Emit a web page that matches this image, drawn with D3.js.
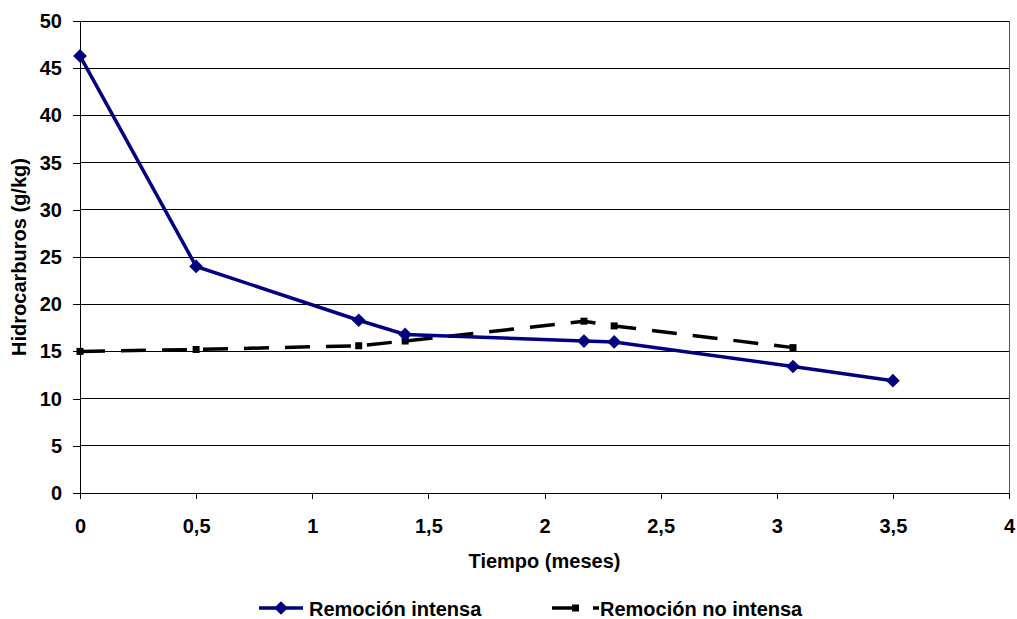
<!DOCTYPE html>
<html>
<head>
<meta charset="utf-8">
<script src="https://cdn.jsdelivr.net/npm/d3@7"></script>
<style>
  body { margin: 0; background: #fff; }
  svg text { font-family: "Liberation Sans", Arial, sans-serif; font-weight: bold; fill: #000; }
</style>
</head>
<body>
<div id="chart"></div>
<script>
// data
var xTicks = [0, 0.5, 1, 1.5, 2, 2.5, 3, 3.5, 4];
var yTicks = [0, 5, 10, 15, 20, 25, 30, 35, 40, 45, 50];

var intensaX = [0, 0.5, 1.2, 1.4, 2.17, 2.3, 3.07, 3.5];
var intensaY = [46.3, 24.0, 18.3, 16.8, 16.1, 16.0, 13.4, 11.9];

var noIntensaX = [0, 0.5, 1.2, 1.4, 2.17, 2.3, 3.07];
var noIntensaY = [15.0, 15.2, 15.6, 16.1, 18.2, 17.7, 15.4];

var seriesNames = ["Remoción intensa", "Remoción no intensa"];

var fmt = function(d) { return String(d).replace(".", ","); };

var width = 1017, height = 619;
var margin = {top: 21, right: 8, bottom: 126, left: 80};
var w = width - margin.left - margin.right,
    h = height - margin.top - margin.bottom;

var svg = d3.select("#chart").append("svg")
    .attr("width", width)
    .attr("height", height);

var g = svg.append("g")
    .attr("transform", "translate(" + margin.left + "," + margin.top + ")");

var xScale = d3.scaleLinear().domain([0, 4]).range([0, w]);
var yScale = d3.scaleLinear().domain([0, 50]).range([h, 0]);

// gridlines
g.selectAll(".grid")
    .data(yTicks.filter(function(d) { return d > 0; }))
  .enter().append("line")
    .attr("class", "grid")
    .attr("x1", 0).attr("x2", w)
    .attr("y1", function(d) { return yScale(d); })
    .attr("y2", function(d) { return yScale(d); })
    .style("stroke", "#000")
    .style("stroke-width", 1)
    .attr("shape-rendering", "crispEdges");

// right border
g.append("line")
    .attr("x1", w).attr("x2", w).attr("y1", 0).attr("y2", h)
    .style("stroke", "#555")
    .attr("shape-rendering", "crispEdges");

var xAxis = d3.axisBottom(xScale).tickValues(xTicks).tickFormat(fmt).tickSizeInner(6).tickSizeOuter(0).tickPadding(20);
var yAxis = d3.axisLeft(yScale).tickValues(yTicks).tickSizeInner(7).tickSizeOuter(0).tickPadding(11);

var xa = g.append("g")
    .attr("transform", "translate(0," + h + ")")
    .call(xAxis);
var ya = g.append("g").call(yAxis);

[xa, ya].forEach(function(a) {
    a.selectAll("path, line").style("stroke", "#000").attr("shape-rendering", "crispEdges");
    a.selectAll("text").style("font-size", "20px").style("font-family", "'Liberation Sans', Arial, sans-serif").style("font-weight", "bold");
});

// axis titles
svg.append("text")
    .attr("transform", "translate(26," + (margin.top + h / 2) + ") rotate(-90)")
    .style("text-anchor", "middle")
    .style("font-size", "20px")
    .text("Hidrocarburos (g/kg)");

svg.append("text")
    .attr("x", margin.left + w / 2)
    .attr("y", 568)
    .style("text-anchor", "middle")
    .style("font-size", "20px")
    .text("Tiempo (meses)");

var line = d3.line()
    .x(function(d) { return xScale(d[0]); })
    .y(function(d) { return yScale(d[1]); });

var noIntensa = noIntensaX.map(function(x, i) { return [x, noIntensaY[i]]; });
var intensa = intensaX.map(function(x, i) { return [x, intensaY[i]]; });

// black dashed series
g.append("path")
    .attr("d", line(noIntensa))
    .style("fill", "none")
    .style("stroke", "#000")
    .style("stroke-width", 3.5)
    .style("stroke-dasharray", "25, 16");

g.selectAll(".sq")
    .data(noIntensa)
  .enter().append("rect")
    .attr("x", function(d) { return xScale(d[0]) - 3.5; })
    .attr("y", function(d) { return yScale(d[1]) - 3.5; })
    .attr("width", 7).attr("height", 7)
    .style("fill", "#000");

// blue series
g.append("path")
    .attr("d", line(intensa))
    .style("fill", "none")
    .style("stroke", "#000080")
    .style("stroke-width", 3.5);

var diamond = d3.symbol().type(d3.symbolDiamond2).size(120);
g.selectAll(".dm")
    .data(intensa)
  .enter().append("path")
    .attr("d", diamond)
    .attr("transform", function(d) { return "translate(" + xScale(d[0]) + "," + yScale(d[1]) + ")"; })
    .style("fill", "#000080");

// legend
var ly = 608;
var leg = svg.append("g");
leg.append("line")
    .attr("x1", 259).attr("x2", 303).attr("y1", ly).attr("y2", ly)
    .style("stroke", "#000080").style("stroke-width", 3.5);
leg.append("path")
    .attr("d", diamond)
    .attr("transform", "translate(281," + ly + ")")
    .style("fill", "#000080");
leg.append("text")
    .attr("x", 309).attr("y", ly + 8)
    .style("font-size", "20px")
    .text(seriesNames[0]);

leg.append("line")
    .attr("x1", 552).attr("x2", 599).attr("y1", ly).attr("y2", ly)
    .style("stroke", "#000").style("stroke-width", 3.5)
    .style("stroke-dasharray", "23, 18, 6, 100");
leg.append("rect")
    .attr("x", 572).attr("y", ly - 3.5).attr("width", 7).attr("height", 7)
    .style("fill", "#000");
leg.append("text")
    .attr("x", 600).attr("y", ly + 8)
    .style("font-size", "20px")
    .text(seriesNames[1]);
</script>
</body>
</html>
